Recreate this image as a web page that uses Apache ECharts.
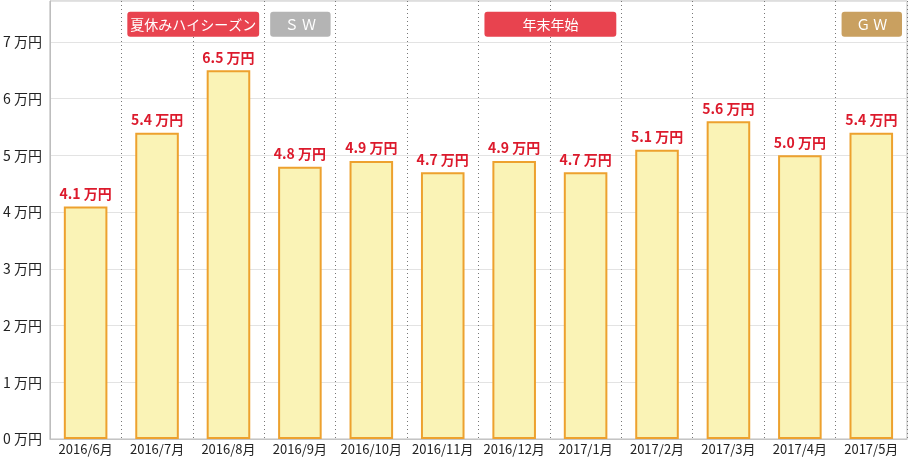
<!DOCTYPE html>
<html>
<head>
<meta charset="utf-8">
<script src="https://cdn.jsdelivr.net/npm/echarts@6/dist/echarts.min.js"></script>
<style>
  html, body { margin: 0; padding: 0; background: #fff; }
  #main { width: 908px; height: 459px; }
</style>
</head>
<body>
<div id="main"></div>
<script>
// 月別
var months = ['2016/6月', '2016/7月', '2016/8月', '2016/9月', '2016/10月', '2016/11月',
  '2016/12月', '2017/1月', '2017/2月', '2017/3月', '2017/4月', '2017/5月'];
// 単位: 万円
var prices = [4.1, 5.4, 6.5, 4.8, 4.9, 4.7, 4.9, 4.7, 5.1, 5.6, 5.0, 5.4];
// 上のラベル [開始月, 終了月, テキスト, 色]
var seasonStart = [1, 3, 6, 11];
var seasonEnd = [2, 3, 7, 11];
var seasonNames = ['夏休みハイシーズン', 'Ｓ Ｗ', '年末年始', 'Ｇ Ｗ'];
var seasonColors = ['#e8434f', '#b4b4b4', '#e8434f', '#c9a060'];

var font = '"Noto Sans CJK JP", "Noto Sans", sans-serif';

var seasonData = seasonStart.map(function (s, i) {
  return [s, seasonEnd[i], seasonNames[i], seasonColors[i]];
});

var chart = echarts.init(document.getElementById('main'));

var option = {
  animation: false,
  textStyle: { fontFamily: font },
  grid: {
    left: 49,
    right: 1,
    top: 1,
    bottom: 20,
    show: true,
    borderColor: '#bdbdbd',
    borderWidth: 1
  },
  xAxis: {
    type: 'category',
    data: months,
    axisLine: { lineStyle: { color: '#c4c4c4' } },
    axisTick: { show: false },
    axisLabel: { color: '#222', fontSize: 13, margin: 4, interval: 0 },
    splitLine: {
      show: true,
      interval: 0,
      lineStyle: { color: '#777', type: [1, 3], width: 1 }
    }
  },
  yAxis: {
    type: 'value',
    min: 0,
    max: 7.72,
    interval: 1,
    axisLine: { show: true, lineStyle: { color: '#bdbdbd' } },
    axisTick: { show: false },
    axisLabel: {
      color: '#222',
      fontSize: 14,
      margin: 8,
      formatter: function (v) {
        return Number.isInteger(v) ? v + ' 万円' : '';
      }
    },
    splitLine: { lineStyle: { color: '#e3e3e3' } }
  },
  series: [
    {
      type: 'bar',
      data: prices,
      barWidth: '61%',
      itemStyle: {
        color: '#faf3b6',
        borderColor: '#eda12e',
        borderWidth: 2
      },
      label: {
        show: true,
        position: 'top',
        distance: 6,
        color: '#dc1a2c',
        fontWeight: 'bold',
        fontSize: 14,
        formatter: function (p) {
          return p.value.toFixed(1) + ' 万円';
        }
      }
    },
    {
      type: 'custom',
      data: seasonData,
      encode: { x: [0, 1] },
      silent: true,
      z: 10,
      renderItem: function (params, api) {
        var band = api.size([1, 0])[0];
        var a = api.coord([api.value(0), 7.53]);
        var b = api.coord([api.value(1), 7.09]);
        var x1 = a[0] - band / 2 + 6;
        var x2 = b[0] + band / 2 - 5;
        var item = seasonData[params.dataIndex];
        return {
          type: 'rect',
          shape: { x: x1, y: a[1], width: x2 - x1, height: b[1] - a[1], r: 3 },
          style: { fill: item[3] },
          textContent: {
            style: {
              text: item[2],
              fill: '#fff',
              fontSize: 14,
              fontFamily: font
            }
          },
          textConfig: { position: 'inside' }
        };
      }
    }
  ]
};

chart.setOption(option);
</script>
</body>
</html>
